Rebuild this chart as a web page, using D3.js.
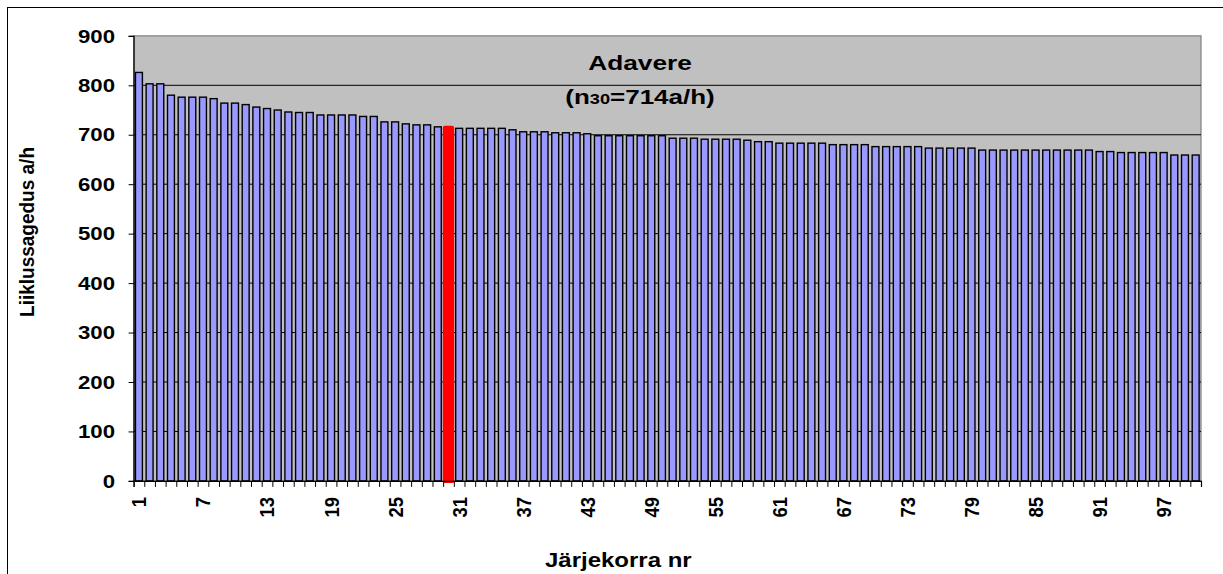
<!DOCTYPE html>
<html><head><meta charset="utf-8">
<script src="https://cdn.jsdelivr.net/npm/d3@7"></script>
<style>
body{margin:0;background:#fff;}
text{font-family:"Liberation Sans",Arial,sans-serif;font-weight:bold;fill:#000;}
</style>
</head><body>
<svg id="c" width="1223" height="574"></svg>
<script>
const categories = [1,2,3,4,5,6,7,8,9,10,11,12,13,14,15,16,17,18,19,20,
  21,22,23,24,25,26,27,28,29,30,31,32,33,34,35,36,37,38,39,40,
  41,42,43,44,45,46,47,48,49,50,51,52,53,54,55,56,57,58,59,60,
  61,62,63,64,65,66,67,68,69,70,71,72,73,74,75,76,77,78,79,80,
  81,82,83,84,85,86,87,88,89,90,91,92,93,94,95,96,97,98,99,100];
const values = [826,803,803,780,776,776,776,773,764,764,
  761,756,753,750,746,745,745,740,740,740,
  740,737,737,726,726,722,720,720,716,714,
  713,713,713,713,713,710,706,706,706,704,
  704,704,702,698,698,698,698,698,698,698,
  693,693,693,691,691,691,691,689,686,686,
  683,683,683,683,683,680,680,680,680,676,
  676,676,676,676,673,673,673,673,673,669,
  669,669,669,669,669,669,669,669,669,669,
  666,666,664,664,664,664,664,659,659,659];
const highlightCategory = 30;
const yTickValues = [0,100,200,300,400,500,600,700,800,900];
const xTickLabels = [1,7,13,19,25,31,37,43,49,55,61,67,73,79,85,91,97];
const titleText = "Adavere";
const subtitleParts = ["(n", "30", "=714a/h)"];
const xTitle = "Järjekorra nr";
const yTitle = "Liiklussagedus a/h";

const svg = d3.select("#c");
const P = {left:133.6, right:1201, top:35.85, bottom:480.9};

const x = d3.scaleBand().domain(categories).range([P.left, P.right])
  .paddingInner(0.35).paddingOuter(0.175);
const xb = d3.scaleLinear().domain([0, categories.length]).range([P.left, P.right]);
const y = d3.scaleLinear().domain([0, 900]).range([P.bottom, P.top]);

// outer chart border
svg.append("rect").attr("x",7.5).attr("y",7.5).attr("width",1400).attr("height",800)
  .attr("fill","#fff").attr("stroke","#000").attr("stroke-width",1);

// plot area
svg.append("rect").attr("x",P.left).attr("y",P.top)
  .attr("width",P.right-P.left).attr("height",P.bottom-P.top)
  .attr("fill","#C0C0C0").attr("stroke","#808080").attr("stroke-width",1.2);

// gridlines
svg.append("g").selectAll("line").data(yTickValues.filter(v=>v>0 && v<900)).join("line")
  .attr("x1",P.left).attr("x2",P.right)
  .attr("y1",d=>y(d)).attr("y2",d=>y(d))
  .attr("stroke","#000").attr("stroke-width",1);

// bars
const data = categories.map((c,i)=>({c, v: values[i]}));
svg.append("g").selectAll("rect").data(data.filter(d=>d.c!==highlightCategory)).join("rect")
  .attr("x",d=>x(d.c)).attr("width",x.bandwidth())
  .attr("y",d=>y(d.v)).attr("height",d=>y(0)-y(d.v))
  .attr("fill","#9999FF").attr("stroke","#000").attr("stroke-width",1.4);
svg.append("g").selectAll("rect").data(data.filter(d=>d.c===highlightCategory)).join("rect")
  .attr("x",d=>x(d.c)).attr("width",x.bandwidth())
  .attr("y",d=>y(d.v)).attr("height",d=>y(0)-y(d.v))
  .attr("fill","#FF0000").attr("stroke","#FF0000").attr("stroke-width",4.4)
  .attr("stroke-linejoin","round");

// y axis
const yAxis = d3.axisLeft(y).tickValues(yTickValues).tickSize(5).tickFormat("");
const gy = svg.append("g").attr("transform",`translate(${P.left},0)`).call(yAxis);
gy.select(".domain").attr("stroke","#000").attr("stroke-width",1.2);
gy.selectAll(".tick line").attr("stroke","#000");
svg.append("g").selectAll("text").data(yTickValues).join("text")
  .attr("transform",d=>`translate(115,${y(d)}) scale(1.2,1)`)
  .attr("text-anchor","end").attr("dy","0.36em")
  .style("font-size","18.5px").text(d=>d);

// x axis
const xAxis = d3.axisBottom(xb).tickValues(d3.range(0, categories.length+1)).tickSize(6).tickFormat("");
const gx = svg.append("g").attr("transform",`translate(0,${P.bottom})`).call(xAxis);
gx.select(".domain").attr("stroke","#000").attr("stroke-width",1.2);
gx.selectAll(".tick line").attr("stroke","#000");
svg.append("g").selectAll("text").data(xTickLabels).join("text")
  .attr("transform",d=>`translate(${x(d)+x.bandwidth()/2},497) scale(1.12,1) rotate(-90)`)
  .attr("text-anchor","end").attr("dy","0.36em")
  .style("font-size","18.5px").text(d=>d);

// axis titles
svg.append("text")
  .attr("transform",`translate(545,567) scale(1.2,1)`)
  .attr("text-anchor","start").style("font-size","20px").text(xTitle);
svg.append("text")
  .attr("transform",`translate(26,232) scale(1.1,1) rotate(-90)`)
  .attr("text-anchor","middle").attr("dy","0.36em").style("font-size","19px").text(yTitle);

// chart title inside plot
svg.append("text")
  .attr("transform",`translate(640,70) scale(1.25,1)`)
  .attr("text-anchor","middle").style("font-size","21px").text(titleText);
const st = svg.append("text")
  .attr("transform",`translate(640,104) scale(1.3,1)`)
  .attr("text-anchor","middle").style("font-size","20px");
st.append("tspan").text(subtitleParts[0]);
st.append("tspan").style("font-size","14px").text(subtitleParts[1]);
st.append("tspan").text(subtitleParts[2]);
</script>
</body></html>
